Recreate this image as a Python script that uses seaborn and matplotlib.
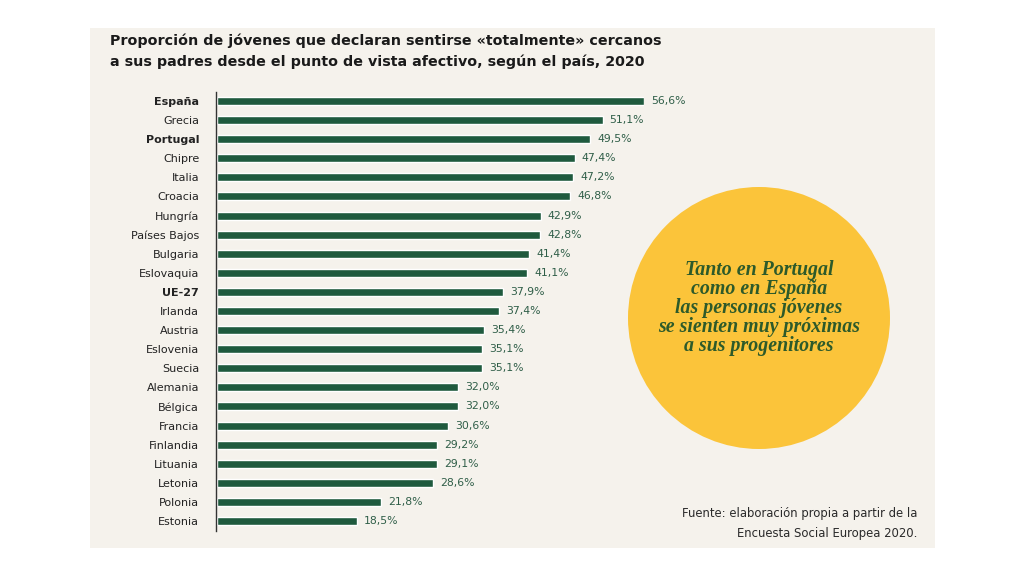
import matplotlib
matplotlib.use("Agg")
import matplotlib.pyplot as plt
import seaborn as sns
import pandas as pd
from matplotlib.patches import Circle, Rectangle

countries = ["España", "Grecia", "Portugal", "Chipre", "Italia", "Croacia", "Hungría",
             "Países Bajos", "Bulgaria", "Eslovaquia", "UE-27", "Irlanda", "Austria",
             "Eslovenia", "Suecia", "Alemania", "Bélgica", "Francia", "Finlandia",
             "Lituania", "Letonia", "Polonia", "Estonia"]
values = [56.6, 51.1, 49.5, 47.4, 47.2, 46.8, 42.9, 42.8, 41.4, 41.1, 37.9, 37.4, 35.4,
          35.1, 35.1, 32.0, 32.0, 30.6, 29.2, 29.1, 28.6, 21.8, 18.5]
bold_labels = ["España", "Portugal", "UE-27"]

title = ("Proporción de jóvenes que declaran sentirse «totalmente» cercanos\n"
         "a sus padres desde el punto de vista afectivo, según el país, 2020")
callout = ("Tanto en Portugal\ncomo en España\nlas personas jóvenes\n"
           "se sienten muy próximas\na sus progenitores")
source = "Fuente: elaboración propia a partir de la\nEncuesta Social Europea 2020."

GREEN = "#1f5a3e"
CREAM = "#f5f2ec"
YELLOW = "#fbc43a"

sns.set_theme(style="white")
plt.rcParams['font.family'] = ['DejaVu Sans']

W, H = 1024, 576
fig = plt.figure(figsize=(W / 100, H / 100), dpi=100)
fig.patch.set_facecolor("white")

# cream panel and yellow circle (pixel coordinates)
fig.patches.append(Rectangle((90, H - 548), 935 - 90, 548 - 28, transform=None,
                             facecolor=CREAM, edgecolor="none", zorder=-2))
fig.patches.append(Circle((759, H - 318), 131, transform=None, facecolor=YELLOW,
                          edgecolor="none", zorder=-1))

ax = fig.add_axes([217 / W, 1 - 530.5 / H, 427 / W, (530.5 - 91.5) / H])
ax.set_facecolor("none")
ax.set_zorder(1)

df = pd.DataFrame({"country": countries, "value": values})
sns.barplot(data=df, x="value", y="country", orient="h", color=GREEN,
            width=0.42, saturation=1, ax=ax)
ax.set_xlim(0, 56.6)
ax.set_ylim(len(countries) - 0.5, -0.5)
ax.set_xlabel("")
ax.set_ylabel("")
ax.set_xticks([])
for s in ["top", "right", "bottom"]:
    ax.spines[s].set_visible(False)
ax.spines["left"].set_color("#333333")
ax.spines["left"].set_linewidth(1.0)
ax.spines["left"].set_position(("data", -0.15))

ax.set_yticks(range(len(countries)))
ax.set_yticklabels(countries)
ax.tick_params(axis="y", length=0, pad=12, labelsize=8, labelcolor="#222222")
for lbl in ax.get_yticklabels():
    if lbl.get_text() in bold_labels:
        lbl.set_fontweight("bold")

for i, v in enumerate(values):
    ax.text(v + 0.95, i, f"{v:.1f}%".replace(".", ","), va="center", ha="left",
            fontsize=7.8, color="#2f5e48", clip_on=False)

fig.text(110 / W, 1 - 51 / H, title, ha="left", va="center", fontsize=10.3,
         fontweight="bold", color="#1a1a1a", linespacing=1.55)

fig.text(759 / W, 1 - 308 / H, callout, ha="center", va="center", fontsize=14.3,
         fontstyle="italic", fontweight="bold", family=["Liberation Serif", "DejaVu Serif"],
         color="#2d5a2a", linespacing=0.95, zorder=2)

fig.text(917 / W, 1 - 523 / H, source, ha="right", va="center", fontsize=8.4,
         color="#2a2a2a", linespacing=1.7)

fig.savefig("out.png", dpi=100, facecolor="white")
